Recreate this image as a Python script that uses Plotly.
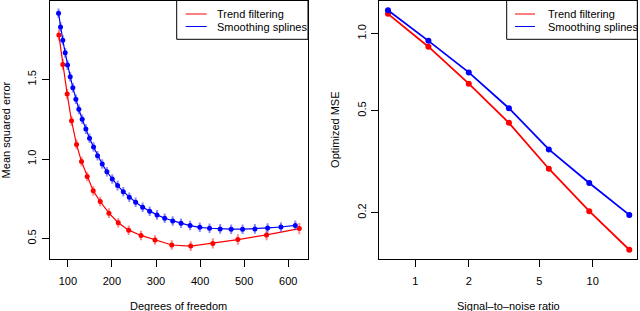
import plotly.graph_objects as go

# Left panel: MSE vs degrees of freedom
tf_df = [79.6, 88.6, 98.5, 108.4, 119.7, 131.0, 143.9, 157.6, 173.5, 193.2, 214.4,
         238.0, 266.0, 297.7, 335.7, 378.8, 428.9, 485.6, 550.8, 625.0]
tf_mse = [1.78, 1.594, 1.408, 1.24, 1.092, 0.984, 0.89, 0.80, 0.733, 0.66, 0.60,
          0.553, 0.52, 0.491, 0.46, 0.453, 0.47, 0.494, 0.523, 0.563]
tf_err = [0.035, 0.034, 0.032, 0.031, 0.03, 0.03, 0.03, 0.03, 0.03, 0.03, 0.03,
          0.03, 0.03, 0.03, 0.03, 0.031, 0.032, 0.033, 0.034, 0.035]

ss_df = [78.9, 83.4, 88.6, 94.0, 99.3, 105.4, 111.4, 118.2, 125.0, 132.6, 140.9, 149.2,
         158.3, 167.4, 178.0, 188.6, 200.8, 212.9, 225.8, 239.4, 253.8, 269.7, 285.6,
         302.3, 319.7, 337.9, 356.8, 377.3, 399.3, 421.4, 445.5, 470.5, 496.4, 524.3,
         553.2, 583.4, 616.0]
ss_mse = [1.916, 1.83, 1.747, 1.667, 1.59, 1.517, 1.448, 1.376, 1.312, 1.25, 1.188, 1.13,
          1.075, 1.021, 0.969, 0.92, 0.875, 0.833, 0.795, 0.76, 0.728, 0.697, 0.672,
          0.649, 0.628, 0.611, 0.597, 0.582, 0.571, 0.565, 0.561, 0.559, 0.559, 0.561,
          0.567, 0.573, 0.583]
ss_err = [0.03] * len(ss_df)

# Right panel: optimized MSE vs signal-to-noise ratio
snr = [0.70, 1.184, 2.0, 3.37, 5.66, 9.57, 16.1]
tf_opt = [1.193, 0.888, 0.637, 0.448, 0.2967, 0.2027, 0.1433]
ss_opt = [1.233, 0.936, 0.705, 0.511, 0.353, 0.261, 0.196]

legend_names = ["Trend filtering", "Smoothing splines"]

RED = "#FF0000"
BLUE = "#0000FF"
FONT = "Liberation Sans, Arial, sans-serif"

fig = go.Figure()

fig.add_trace(go.Scatter(x=tf_df, y=tf_mse, mode="lines+markers",
                         line=dict(color=RED, width=1.2),
                         marker=dict(color=RED, size=5),
                         error_y=dict(type="data", array=tf_err, color="rgba(255,60,60,0.6)",
                                      thickness=2, width=0),
                         showlegend=False, xaxis="x", yaxis="y"))
fig.add_trace(go.Scatter(x=ss_df, y=ss_mse, mode="lines+markers",
                         line=dict(color=BLUE, width=1.2),
                         marker=dict(color=BLUE, size=5),
                         error_y=dict(type="data", array=ss_err, color="rgba(60,60,255,0.6)",
                                      thickness=2, width=0),
                         showlegend=False, xaxis="x", yaxis="y"))
fig.add_trace(go.Scatter(x=snr, y=tf_opt, mode="lines+markers",
                         line=dict(color=RED, width=1.8),
                         marker=dict(color=RED, size=6),
                         showlegend=False, xaxis="x2", yaxis="y2"))
fig.add_trace(go.Scatter(x=snr, y=ss_opt, mode="lines+markers",
                         line=dict(color=BLUE, width=1.8),
                         marker=dict(color=BLUE, size=6),
                         showlegend=False, xaxis="x2", yaxis="y2"))

W, H = 640, 311
L1, R1 = 49.5 / W, 308.0 / W
L2, R2 = 379.0 / W, 637.3 / W
YB, YT = 1 - 259.3 / H, 1 - 0.5 / H


def px(x):
    return x / W


def py(y):
    return 1 - y / H


axis_common = dict(showline=True, linecolor="black", linewidth=1, mirror=True,
                   ticks="outside", ticklen=7, tickwidth=1, tickcolor="black",
                   showgrid=False, zeroline=False,
                   tickfont=dict(family=FONT, size=11, color="black"))

shapes = []
annotations = []
# manual legends (box, line samples, labels)
for box_x0, line_x0, line_x1, text_x in [(176.7, 185.7, 206.7, 215.0),
                                          (506.7, 515.0, 535.0, 545.7)]:
    box_x1 = R1 * W if box_x0 < 320 else R2 * W
    shapes.append(dict(type="rect", xref="paper", yref="paper",
                       x0=px(box_x0), x1=px(box_x1), y0=py(39.3), y1=YT,
                       line=dict(color="black", width=1), fillcolor="white", layer="above"))
    for name, col, yy in zip(legend_names, [RED, BLUE], [14.0, 26.5]):
        shapes.append(dict(type="line", xref="paper", yref="paper",
                           x0=px(line_x0), x1=px(line_x1), y0=py(yy), y1=py(yy),
                           line=dict(color=col, width=1), layer="above"))
        annotations.append(dict(text=name, x=px(text_x), y=py(yy), xref="paper", yref="paper",
                                showarrow=False, xanchor="left", yanchor="middle",
                                font=dict(family=FONT, size=11, color="black")))

annotations += [
    dict(text="Degrees of freedom", x=(L1 + R1) / 2, y=py(305.5), xref="paper", yref="paper",
         showarrow=False, font=dict(family=FONT, size=11, color="black"),
         xanchor="center", yanchor="middle"),
    dict(text="Mean squared error", x=px(5.5), y=(YB + YT) / 2, xref="paper", yref="paper",
         showarrow=False, textangle=-90, font=dict(family=FONT, size=11, color="black"),
         xanchor="center", yanchor="middle"),
    dict(text="Signal\u2013to\u2013noise ratio", x=(L2 + R2) / 2, y=py(305.5), xref="paper", yref="paper",
         showarrow=False, font=dict(family=FONT, size=11, color="black"),
         xanchor="center", yanchor="middle"),
    dict(text="Optimized MSE", x=px(335.0), y=(YB + YT) / 2, xref="paper", yref="paper",
         showarrow=False, textangle=-90, font=dict(family=FONT, size=11, color="black"),
         xanchor="center", yanchor="middle"),
]

fig.update_layout(
    width=W, height=H,
    margin=dict(l=0, r=0, t=0, b=0),
    plot_bgcolor="white", paper_bgcolor="white",
    showlegend=False,
    xaxis=dict(domain=[L1, R1], range=[58.4, 644.8], anchor="y",
               tickvals=[100, 200, 300, 400, 500, 600], ticklabelstandoff=4, **axis_common),
    yaxis=dict(domain=[YB, YT], range=[0.37, 1.996], anchor="x",
               tickvals=[0.5, 1.0, 1.5], ticktext=["0.5", "1.0", "1.5"],
               tickangle=-90, ticklabelstandoff=1, **axis_common),
    xaxis2=dict(domain=[L2, R2], type="log", range=[-0.2055, 1.252], anchor="y2",
                tickvals=[1, 2, 5, 10], ticktext=["1", "2", "5", "10"],
                ticklabelstandoff=4, **axis_common),
    yaxis2=dict(domain=[YB, YT], type="log", range=[-0.881, 0.1287], anchor="x2",
                tickvals=[0.2, 0.5, 1.0], ticktext=["0.2", "0.5", "1.0"],
                tickangle=-90, ticklabelstandoff=1, **axis_common),
    shapes=shapes,
    annotations=annotations,
)

fig.write_html("out.html",
               config={"displayModeBar": False},
               post_script="document.body.style.margin='0px';document.body.style.padding='0px';")
